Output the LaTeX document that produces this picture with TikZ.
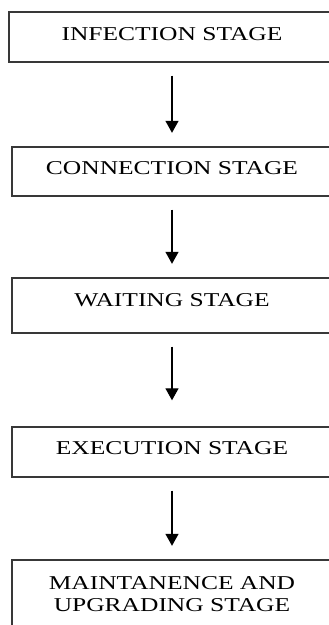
\documentclass[tikz,border=0pt]{standalone}
\usepackage{fontspec}
\setmainfont{Liberation Serif}[FakeStretch=1.3]
\usetikzlibrary{arrows.meta}

\begin{document}
\begin{tikzpicture}[x=1pt, y=-1pt,
  stagebox/.style={draw=black!78, line width=1.4pt, anchor=base,
    minimum width=320pt, inner xsep=0pt, inner ysep=0pt,
    font=\fontsize{19.6}{22}\selectfont, align=center},
  flow/.style={-{Triangle[width=13pt,length=12pt]}, line width=1.3pt,
    shorten <=13pt, shorten >=13.5pt}]
  \useasboundingbox (0,0) rectangle (329,625);
  \clip (0,0) rectangle (329,625);

  % stages, placed by text baseline; box extent set via text height/depth
  \node[stagebox, minimum width=326pt, text height=28.5pt, text depth=21.5pt] (s1) at (172,40.5) {INFECTION STAGE};
  \node[stagebox, text height=27pt, text depth=22pt] (s2) at (172,174) {CONNECTION STAGE};
  \node[stagebox, text height=28pt, text depth=27pt] (s3) at (172,306) {WAITING STAGE};
  \node[stagebox, text height=27.5pt, text depth=22.5pt] (s4) at (172,454.5) {EXECUTION STAGE};
  % two-line node: its base is the baseline of the last line
  \node[stagebox, text height=51.5pt, text depth=40pt] (s5) at (172,611.5) {MAINTANENCE AND\\UPGRADING STAGE};

  \draw[flow] (s1) -- (s2);
  \draw[flow] (s2) -- (s3);
  \draw[flow, shorten >=26pt] (s3) -- (s4);
  \draw[flow] (s4) -- (s5);
\end{tikzpicture}
\end{document}
